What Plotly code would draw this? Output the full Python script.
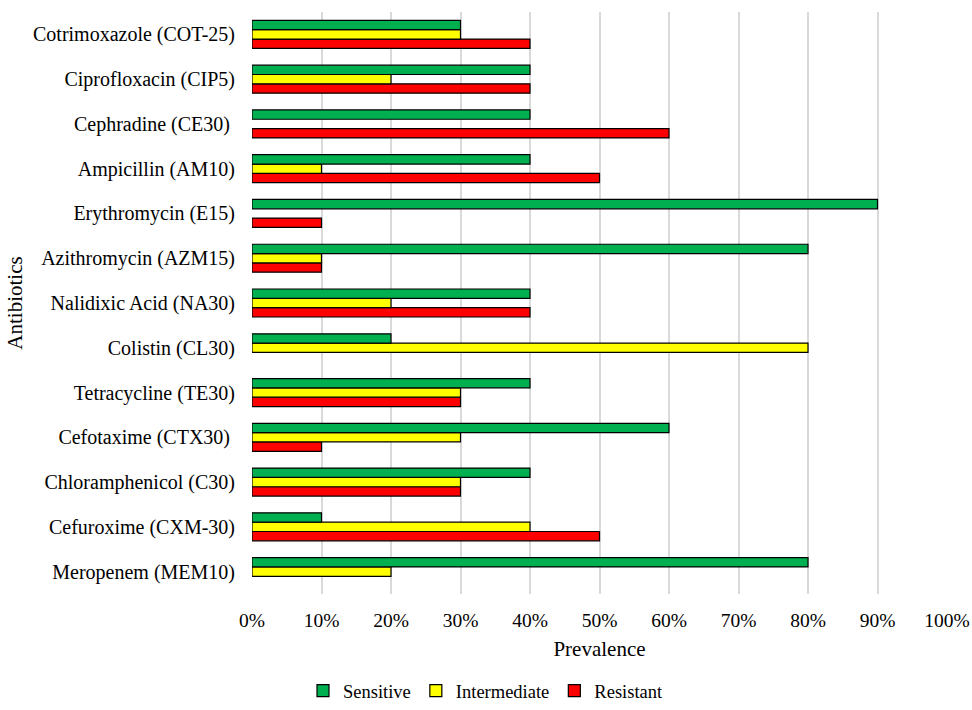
import plotly.graph_objects as go

# Antibiotics listed bottom-to-top as they appear on the y axis
antibiotics = [
    "Meropenem (MEM10)",
    "Cefuroxime (CXM-30)",
    "Chloramphenicol (C30)",
    "Cefotaxime (CTX30) ",
    "Tetracycline (TE30)",
    "Colistin (CL30)",
    "Nalidixic Acid (NA30)",
    "Azithromycin (AZM15)",
    "Erythromycin (E15)",
    "Ampicillin (AM10)",
    "Cephradine (CE30) ",
    "Ciprofloxacin (CIP5)",
    "Cotrimoxazole (COT-25)",
]

# Prevalence (fraction of isolates) per antibiotic
sensitive = [0.80, 0.10, 0.40, 0.60, 0.40, 0.20, 0.40, 0.80, 0.90, 0.40, 0.40, 0.40, 0.30]
intermediate = [0.20, 0.40, 0.30, 0.30, 0.30, 0.80, 0.20, 0.10, 0.00, 0.10, 0.00, 0.20, 0.30]
resistant = [0.00, 0.50, 0.30, 0.10, 0.30, 0.00, 0.40, 0.10, 0.10, 0.50, 0.60, 0.40, 0.40]

series = [
    ("Resistant", resistant, "#ff0000"),
    ("Intermediate", intermediate, "#ffff00"),
    ("Sensitive", sensitive, "#00b050"),
]

font_family = "Liberation Serif, Times New Roman, serif"

fig = go.Figure()
for name, values, color in series:
    fig.add_trace(
        go.Bar(
            name=name,
            y=antibiotics,
            x=[v if v > 0 else None for v in values],
            orientation="h",
            marker=dict(color=color, line=dict(color="#000000", width=1.2)),
        )
    )

fig.update_layout(
    width=972,
    height=710,
    margin=dict(l=252, r=25, t=12, b=116),
    paper_bgcolor="white",
    plot_bgcolor="white",
    barmode="group",
    bargap=0.375,
    bargroupgap=0,
    font=dict(family=font_family, size=20, color="#000000"),
    showlegend=True,
    legend=dict(
        orientation="h",
        traceorder="reversed",
        x=0.5,
        xref="container",
        xanchor="center",
        y=0,
        yref="container",
        yanchor="bottom",
        font=dict(size=18.5),
        itemwidth=30,
        tracegroupgap=0,
    ),
    xaxis=dict(
        range=[0, 1.0],
        dtick=0.1,
        tick0=0,
        tickformat=".0%",
        tickfont=dict(size=19.5),
        showgrid=True,
        gridcolor="#d9d9d9",
        gridwidth=1.5,
        zeroline=False,
        showline=False,
        ticks="",
        ticklabelstandoff=12,
        automargin=False,
        title=dict(text="Prevalence", font=dict(size=21), standoff=11),
        fixedrange=True,
    ),
    yaxis=dict(
        type="category",
        categoryorder="array",
        categoryarray=antibiotics,
        tickfont=dict(size=20),
        showgrid=False,
        zeroline=False,
        showline=False,
        ticks="",
        ticklabelstandoff=16,
        automargin=False,
        title=dict(text="Antibiotics", font=dict(size=21), standoff=4),
        fixedrange=True,
    ),
)

fig.write_html("out.html")
